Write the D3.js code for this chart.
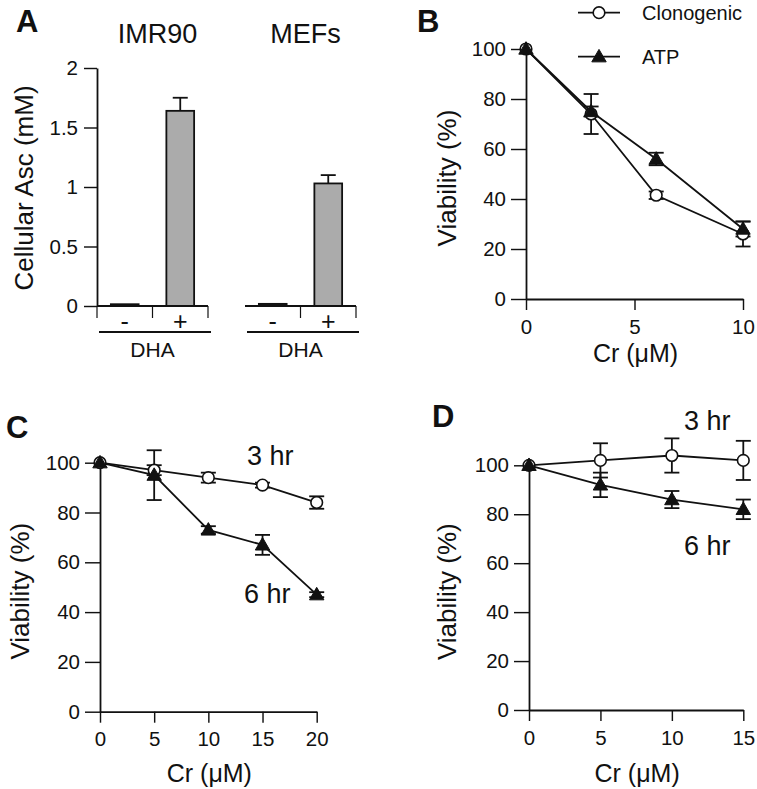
<!DOCTYPE html>
<html>
<head>
<meta charset="utf-8">
<script src="https://cdn.jsdelivr.net/npm/d3@7"></script>
<style>
  html, body { margin: 0; padding: 0; background: #fff; }
  svg { display: block; }
  text { font-family: "Liberation Sans", Arial, Helvetica, sans-serif; fill: #111; }
</style>
</head>
<body>
<svg id="chart" width="757" height="789"></svg>
<script>
// ---------- DATA ----------
const aGroups = ["IMR90", "MEFs"];
const aDha = ["-", "+"];
const aImr90Values = [0.015, 1.64];
const aImr90Err = [0, 0.11];
const aMefValues = [0.018, 1.03];
const aMefErr = [0, 0.07];
const aYTicks = [0, 0.5, 1, 1.5, 2];
const aYTickLabels = ["0", "0.5", "1", "1.5", "2"];

const viabilityTicks = [0, 20, 40, 60, 80, 100];

const bDose = [0, 3, 6, 10];
const bClonogenic = [100, 74, 41.5, 26];
const bClonogenicErr = [0, 8, 1.5, 5];
const bAtp = [100, 75, 56, 28];
const bAtpErr = [0, 2, 2.5, 3];
const bXTicks = [0, 5, 10];
const bLegend = ["Clonogenic", "ATP"];

const cDose = [0, 5, 10, 15, 20];
const c3hr = [100, 97, 94, 91, 84];
const c3hrErr = [0, 2, 2, 1, 2.5];
const c6hr = [100, 95, 73, 67, 47];
const c6hrErr = [0, 10, 1.5, 4, 1];
const cXTicks = [0, 5, 10, 15, 20];

const dDose = [0, 5, 10, 15];
const d3hr = [100, 102, 104, 102];
const d3hrErr = [0, 7, 7, 8];
const d6hr = [100, 92, 86, 82];
const d6hrErr = [0, 5, 3.5, 4];
const dXTicks = [0, 5, 10, 15];

const seriesLabels = ["3 hr", "6 hr"];

// ---------- STYLE ----------
const INK = "#111";
const SW = 1.8;
const TICK_FS = 20.5;
const LABEL_FS = 26;

const svg = d3.select("#chart");
svg.append("rect").attr("width", 757).attr("height", 789).attr("fill", "#fff");

function styleAxis(g) {
  g.attr("font-size", TICK_FS).attr("font-family", '"Liberation Sans", Arial, sans-serif');
  g.selectAll("path.domain").attr("stroke", INK).attr("stroke-width", SW);
  g.selectAll(".tick line").attr("stroke", INK).attr("stroke-width", SW * 0.8);
  g.selectAll(".tick text").attr("font-size", TICK_FS).attr("fill", INK);
}

function panelLetter(txt, x, y) {
  svg.append("text").attr("x", x).attr("y", y).attr("font-size", 31)
    .attr("font-weight", "bold").text(txt);
}

// ---------- PANEL A ----------
(function () {
  const y = d3.scaleLinear().domain([0, 2]).range([306, 68]);
  const xg = d3.scaleBand().domain(aGroups).range([97, 356]).paddingInner(0.25).paddingOuter(0);
  const valuesByGroup = { "IMR90": aImr90Values, "MEFs": aMefValues };
  const errByGroup = { "IMR90": aImr90Err, "MEFs": aMefErr };

  const yAxis = d3.axisLeft(y).tickValues(aYTicks)
    .tickFormat((d, i) => aYTickLabels[i]).tickSize(13).tickSizeOuter(0).tickPadding(6);
  svg.append("g").attr("transform", "translate(97,0)").call(yAxis).call(styleAxis);

  svg.append("text").attr("transform", "translate(24,188) rotate(-90)")
    .attr("text-anchor", "middle").attr("dominant-baseline", "central")
    .attr("font-size", LABEL_FS).text("Cellular Asc (mM)");

  aGroups.forEach((gName) => {
    const x0 = xg(gName);
    const xi = d3.scaleBand().domain(aDha).range([x0, x0 + xg.bandwidth()]).paddingInner(0.5).paddingOuter(0.25);
    const vals = valuesByGroup[gName];
    const errs = errByGroup[gName];
    const g = svg.append("g");

    aDha.forEach((d, i) => {
      const bx = xi(d), bw = xi.bandwidth();
      g.append("rect").attr("x", bx).attr("y", y(vals[i])).attr("width", bw)
        .attr("height", y(0) - y(vals[i]))
        .attr("fill", vals[i] > 0.1 ? "#ababab" : "#222").attr("stroke", INK).attr("stroke-width", SW);
      if (errs[i] > 0) {
        const cx = bx + bw / 2;
        g.append("line").attr("x1", cx).attr("x2", cx).attr("y1", y(vals[i])).attr("y2", y(vals[i] + errs[i]))
          .attr("stroke", INK).attr("stroke-width", SW);
        g.append("line").attr("x1", cx - 7.5).attr("x2", cx + 7.5).attr("y1", y(vals[i] + errs[i])).attr("y2", y(vals[i] + errs[i]))
          .attr("stroke", INK).attr("stroke-width", SW);
      }
    });

    g.append("line").attr("x1", x0).attr("x2", x0 + xg.bandwidth()).attr("y1", y(0)).attr("y2", y(0))
      .attr("stroke", INK).attr("stroke-width", SW);
    const seps = [x0 + xg.bandwidth() / 2, x0 + xg.bandwidth()];
    if (gName === aGroups[0]) seps.unshift(x0);
    seps.forEach(sx => {
      g.append("line").attr("x1", sx).attr("x2", sx).attr("y1", y(0)).attr("y2", y(0) + 12)
        .attr("stroke", INK).attr("stroke-width", 1.2);
    });
    aDha.forEach((d) => {
      g.append("text").attr("x", xi(d) + xi.bandwidth() / 2).attr("y", y(0) + 24)
        .attr("text-anchor", "middle").attr("font-size", 25).text(d);
    });
    g.append("line").attr("x1", x0 + 2).attr("x2", x0 + xg.bandwidth() + 3).attr("y1", 332).attr("y2", 332)
      .attr("stroke", INK).attr("stroke-width", SW);
    g.append("text").attr("x", x0 + xg.bandwidth() / 2).attr("y", 357)
      .attr("text-anchor", "middle").attr("font-size", 21).text("DHA");
    g.append("text").attr("x", x0 + xg.bandwidth() / 2 + 5).attr("y", 43)
      .attr("text-anchor", "middle").attr("font-size", 27).text(gName);
  });

  panelLetter("A", 16, 32);
})();

// ---------- LINE PANELS ----------
function linePanel(cfg) {
  const x = d3.scaleLinear().domain(cfg.xDomain).range(cfg.xRange);
  const y = d3.scaleLinear().domain([0, 100]).range(cfg.yRange);

  const yAxis = d3.axisLeft(y).tickValues(viabilityTicks).tickFormat(d3.format("d"))
    .tickSize(15).tickSizeOuter(0).tickPadding(5);
  svg.append("g").attr("transform", `translate(${cfg.xRange[0]},0)`).call(yAxis).call(styleAxis);

  const xAxis = d3.axisBottom(x).tickValues(cfg.xTicks).tickFormat(d3.format("d"))
    .tickSize(11).tickSizeOuter(0).tickPadding(9);
  svg.append("g").attr("transform", `translate(0,${cfg.yRange[0]})`).call(xAxis).call(styleAxis);

  svg.append("text").attr("transform", `translate(${cfg.yLabelX},${(cfg.yRange[0] + cfg.yRange[1]) / 2 + 4}) rotate(-90)`)
    .attr("text-anchor", "middle").attr("dominant-baseline", "central")
    .attr("font-size", LABEL_FS).text("Viability (%)");
  svg.append("text").attr("x", (cfg.xRange[0] + cfg.xRange[1]) / 2 + 1).attr("y", cfg.xLabelY)
    .attr("text-anchor", "middle").attr("font-size", 25).text("Cr (μM)");

  const line = d3.line().x(d => x(d[0])).y(d => y(d[1]));
  const series = cfg.series;
  series.forEach(s => {
    svg.append("path").datum(s.xs.map((v, i) => [v, s.ys[i]])).attr("d", line)
      .attr("fill", "none").attr("stroke", INK).attr("stroke-width", SW);
  });
  series.forEach(s => {
    s.xs.forEach((v, i) => {
      const e = s.err[i];
      if (!e) return;
      const cx = x(v);
      const g = svg.append("g").attr("stroke", INK).attr("stroke-width", SW);
      g.append("line").attr("x1", cx).attr("x2", cx).attr("y1", y(s.ys[i] - e)).attr("y2", y(s.ys[i] + e));
      g.append("line").attr("x1", cx - 7.5).attr("x2", cx + 7.5).attr("y1", y(s.ys[i] - e)).attr("y2", y(s.ys[i] - e));
      g.append("line").attr("x1", cx - 7.5).attr("x2", cx + 7.5).attr("y1", y(s.ys[i] + e)).attr("y2", y(s.ys[i] + e));
    });
  });
  series.forEach(s => {
    s.xs.forEach((v, i) => drawMarker(s.marker, x(v), y(s.ys[i])));
  });
  return { x, y };
}

function drawMarker(type, cx, cy) {
  if (type === "circle") {
    svg.append("circle").attr("cx", cx).attr("cy", cy).attr("r", 5.8)
      .attr("fill", "#fff").attr("stroke", INK).attr("stroke-width", 1.6);
  } else {
    svg.append("path").attr("d", d3.symbol().type(d3.symbolTriangle).size(90)())
      .attr("transform", `translate(${cx},${cy + 1})`).attr("fill", INK).attr("stroke", INK).attr("stroke-width", 1);
  }
}

// Panel B
linePanel({
  xDomain: [0, 10], xRange: [526, 743], yRange: [299, 49],
  xTicks: bXTicks, yLabelX: 447, xLabelY: 362,
  series: [
    { xs: bDose, ys: bClonogenic, err: bClonogenicErr, marker: "circle" },
    { xs: bDose, ys: bAtp, err: bAtpErr, marker: "triangle" }
  ]
});
[["circle", 12.7], ["triangle", 56.7]].forEach((m, i) => {
  svg.append("line").attr("x1", 578).attr("x2", 620).attr("y1", m[1]).attr("y2", m[1])
    .attr("stroke", INK).attr("stroke-width", SW);
  drawMarker(m[0], 599, m[1]);
  svg.append("text").attr("x", 642).attr("y", m[1] + 7).attr("font-size", 20).text(bLegend[i]);
});
panelLetter("B", 417, 32);

// Panel C
linePanel({
  xDomain: [0, 20], xRange: [100, 316.7], yRange: [711.7, 462.7],
  xTicks: cXTicks, yLabelX: 20, xLabelY: 782,
  series: [
    { xs: cDose, ys: c3hr, err: c3hrErr, marker: "circle" },
    { xs: cDose, ys: c6hr, err: c6hrErr, marker: "triangle" }
  ]
});
svg.append("text").attr("x", 247).attr("y", 465).attr("font-size", 27).text(seriesLabels[0]);
svg.append("text").attr("x", 244).attr("y", 603).attr("font-size", 27).text(seriesLabels[1]);
panelLetter("C", 6, 438);

// Panel D
linePanel({
  xDomain: [0, 15], xRange: [529, 743.3], yRange: [710, 465.3],
  xTicks: dXTicks, yLabelX: 447, xLabelY: 782,
  series: [
    { xs: dDose, ys: d3hr, err: d3hrErr, marker: "circle" },
    { xs: dDose, ys: d6hr, err: d6hrErr, marker: "triangle" }
  ]
});
svg.append("text").attr("x", 684).attr("y", 430).attr("font-size", 27).text(seriesLabels[0]);
svg.append("text").attr("x", 684).attr("y", 555).attr("font-size", 27).text(seriesLabels[1]);
panelLetter("D", 432, 427);
</script>
</body>
</html>
